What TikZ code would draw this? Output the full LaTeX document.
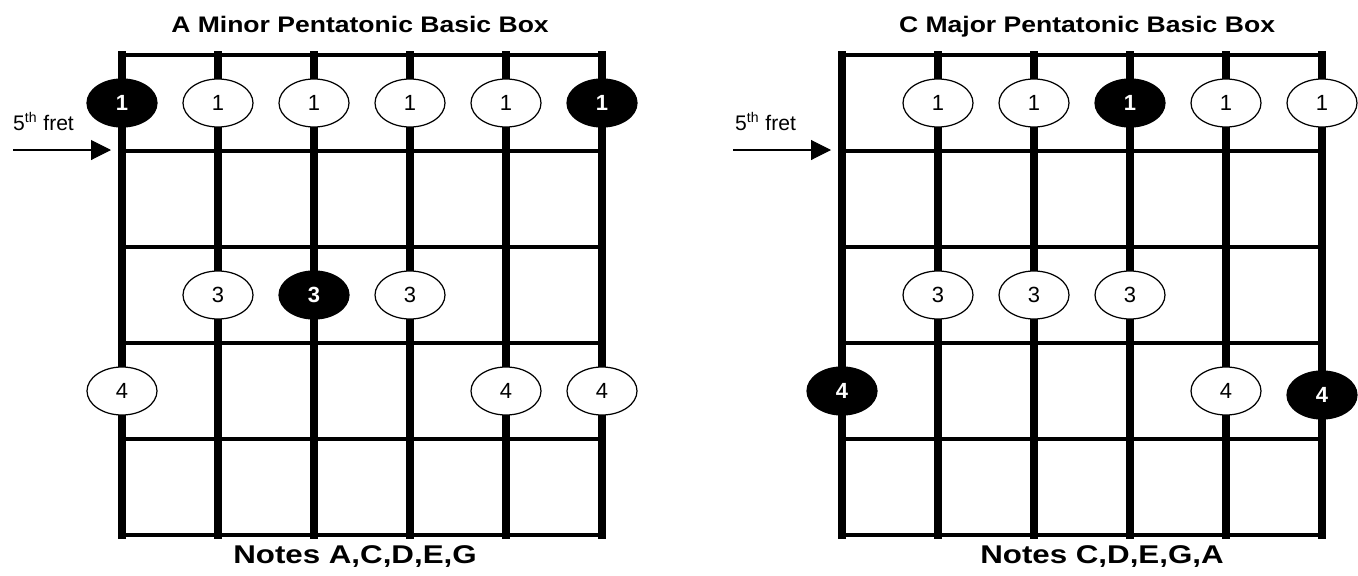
\documentclass[tikz,border=0pt]{standalone}
\usepackage{fontspec}
\setmainfont{Liberation Sans}
\usetikzlibrary{shapes.geometric,arrows.meta}

\begin{document}
\begin{tikzpicture}[
    x=0.02cm, y=-0.02cm,
    fretline/.style={line width=2.8pt, line cap=rect},
    guitarstring/.style={line width=4.2pt, line cap=rect},
    opennote/.style={ellipse, draw=black, line width=0.7pt, fill=white, minimum width=1.4cm, minimum height=0.96cm, inner sep=0pt, font=\fontsize{12.5}{14}\selectfont},
    rootnote/.style={opennote, fill=black, text=white, font=\bfseries\fontsize{12.5}{14}\selectfont},
    boxtitle/.style={font=\bfseries\fontsize{12.8}{15}\selectfont, xscale=1.18},
    notelist/.style={font=\bfseries\fontsize{14.6}{17}\selectfont, xscale=1.22},
    fretlabel/.style={font=\fontsize{12}{14}\selectfont}
    ]
    \useasboundingbox (0,0) rectangle (1358,575);

    % A minor box
    \draw [fretline] (122,55) -- (602,55) (122,151) -- (602,151) (122,247) -- (602,247)
        (122,343) -- (602,343) (122,439) -- (602,439) (122,535) -- (602,535);
    \draw [guitarstring] (122,55) -- (122,535) (218,55) -- (218,535) (314,55) -- (314,535)
        (410,55) -- (410,535) (506,55) -- (506,535) (602,55) -- (602,535);

    \node [boxtitle, anchor=base] (ta) at (360,32) {A Minor Pentatonic Basic Box};
    \node [notelist, anchor=base] (na) at (355,563) {Notes A,C,D,E,G};
    \node [fretlabel, anchor=base west] (fa) at (7,130) {5\textsuperscript{th} fret};
    \coordinate (sa) at (13,150);
    \coordinate (ea) at (111,150);
    \draw [line width=0.6pt, -{Triangle[length=0.4cm, width=0.4cm]}] (sa) -- (ea);

    \node [rootnote] (a1) at (122,103) { 1 };
    \node [opennote] (a2) at (218,103) { 1 };
    \node [opennote] (a3) at (314,103) { 1 };
    \node [opennote] (a4) at (410,103) { 1 };
    \node [opennote] (a5) at (506,103) { 1 };
    \node [rootnote] (a6) at (602,103) { 1 };

    \node [opennote] (a7) at (218,295) { 3 };
    \node [rootnote] (a8) at (314,295) { 3 };
    \node [opennote] (a9) at (410,295) { 3 };

    \node [opennote] (a10) at (122,391) { 4 };
    \node [opennote] (a11) at (506,391) { 4 };
    \node [opennote] (a12) at (602,391) { 4 };

    % C major box
    \draw [fretline] (842,55) -- (1322,55) (842,151) -- (1322,151) (842,247) -- (1322,247)
        (842,343) -- (1322,343) (842,439) -- (1322,439) (842,535) -- (1322,535);
    \draw [guitarstring] (938,55) -- (938,535) (1034,55) -- (1034,535)
        (1130,55) -- (1130,535) (1226,55) -- (1226,535) (1322,55) -- (1322,535);
    \draw [guitarstring, line width=5pt] (842,55) -- (842,535);

    \node [boxtitle, anchor=base] (tc) at (1087,32) {C Major Pentatonic Basic Box};
    \node [notelist, anchor=base] (nc) at (1102,563) {Notes C,D,E,G,A};
    \node [fretlabel, anchor=base west] (fc) at (729,130) {5\textsuperscript{th} fret};
    \coordinate (sc) at (733,150);
    \coordinate (ec) at (831,150);
    \draw [line width=0.6pt, -{Triangle[length=0.4cm, width=0.4cm]}] (sc) -- (ec);

    \node [opennote] (c1) at (938,103) { 1 };
    \node [opennote] (c2) at (1034,103) { 1 };
    \node [rootnote] (c3) at (1130,103) { 1 };
    \node [opennote] (c4) at (1226,103) { 1 };
    \node [opennote] (c5) at (1322,103) { 1 };

    \node [opennote] (c6) at (938,295) { 3 };
    \node [opennote] (c7) at (1034,295) { 3 };
    \node [opennote] (c8) at (1130,295) { 3 };

    \node [rootnote] (c9) at (842,391) { 4 };
    \node [opennote] (c10) at (1226,391) { 4 };
    \node [rootnote] (c11) at (1322,395) { 4 };
\end{tikzpicture}
\end{document}
